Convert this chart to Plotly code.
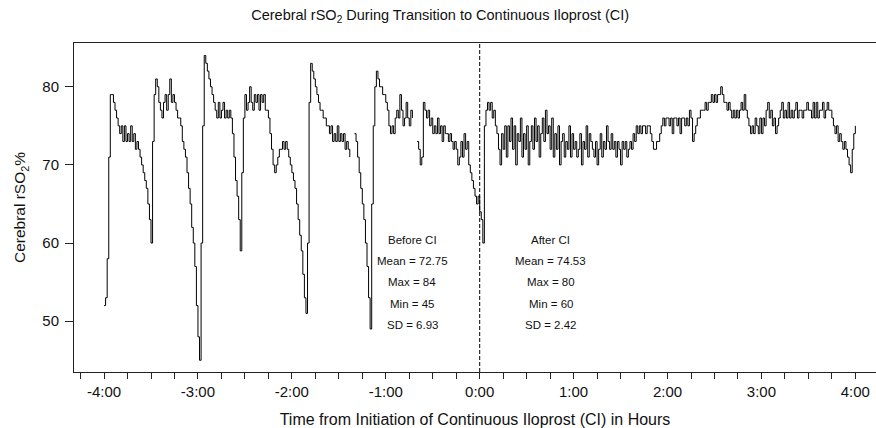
import plotly.graph_objects as go

# ---- data (minutes from initiation of continuous iloprost, rSO2 %) ----
seg1_start_min = -240
seg1_rso2 = [52, 53, 58, 71, 79, 79, 78, 77, 76, 75,
             74, 75, 73, 75, 73, 74, 73, 75, 73, 74,
             72, 73, 72, 71, 70, 69, 68, 67, 65, 63,
             60, 73, 79, 81, 80, 78, 77, 76, 78, 79,
             77, 79, 81, 78, 79, 78, 77, 76, 76, 75,
             73, 72, 71, 69, 67, 65, 62, 60, 57, 52,
             48, 45, 60, 75, 84, 83, 82, 81, 80, 79,
             78, 77, 76, 78, 76, 77, 78, 76, 77, 76,
             77, 76, 74, 71, 68, 66, 63, 59, 69, 76,
             79, 77, 78, 80, 78, 77, 79, 78, 79, 77,
             79, 78, 79, 77, 77, 76, 74, 72, 70, 69,
             70, 71, 72, 72, 73, 72, 73, 72, 71, 70,
             69, 68, 67, 65, 63, 61, 59, 56, 53, 51,
             60, 78, 83, 82, 81, 80, 79, 78, 77, 77,
             76, 76, 75, 75, 74, 75, 73, 74, 73, 75,
             73, 74, 73, 74, 72, 73, 72, 71]

seg2_start_min = -80
seg2_rso2 = [74, 73, 71, 69, 67, 65, 63, 60, 57, 53,
             49, 65, 75, 80, 82, 81, 80, 80, 79, 79,
             78, 77, 75, 74, 75, 74, 76, 77, 76, 79,
             77, 75, 76, 78, 76, 75, 77, 76]

seg3_start_min = -40
seg3_rso2 = [73, 72, 70, 71, 78, 77, 76, 77, 75, 76,
             74, 75, 74, 76, 74, 75, 73, 75, 74, 74,
             73, 74, 73, 72, 73, 72, 70, 71, 73, 71,
             74, 72, 73, 70, 69, 68, 67, 66, 65, 66,
             64, 63, 60, 75, 77, 78, 77, 78, 76, 77,
             75, 74, 72, 70, 74, 72, 75, 71, 75, 73,
             76, 72, 75, 70, 74, 73, 76, 71, 74, 72,
             75, 70, 73, 75, 72, 76, 73, 75, 71, 74,
             76, 73, 77, 74, 75, 72, 76, 71, 74, 72,
             75, 70, 73, 74, 71, 73, 72, 75, 71, 74,
             72, 73, 71, 72, 74, 70, 73, 72, 75, 71,
             74, 73, 72, 71, 73, 70, 72, 74, 71, 73,
             72, 75, 73, 72, 74, 72, 73, 71, 73, 72,
             70, 73, 72, 73, 71, 72, 73, 72, 74, 73,
             75, 74, 75, 74, 75, 75, 74, 75, 75, 74,
             73, 72, 72, 73, 73, 74, 75, 76, 75, 76,
             76, 75, 76, 74, 76, 76, 75, 76, 74, 76,
             76, 75, 76, 75, 77, 76, 73, 74, 75, 76,
             76, 77, 77, 77, 78, 77, 78, 78, 79, 78,
             79, 78, 79, 79, 80, 79, 78, 78, 77, 78,
             77, 76, 77, 76, 77, 76, 77, 78, 77, 79,
             77, 76, 75, 74, 75, 74, 76, 75, 74, 76,
             74, 76, 75, 77, 78, 76, 77, 75, 76, 74,
             75, 76, 77, 78, 76, 77, 76, 78, 76, 77,
             76, 77, 78, 76, 77, 77, 76, 77, 77, 78,
             77, 77, 76, 78, 76, 78, 76, 77, 77, 78,
             76, 77, 78, 77, 77, 76, 75, 74, 75, 73,
             74, 73, 72, 73, 72, 71, 70, 69, 72, 74,
             75]

x_tick_vals = [-4, -3, -2, -1, 0, 1, 2, 3, 4]
x_tick_text = ["-4:00", "-3:00", "-2:00", "-1:00", "0:00", "1:00", "2:00", "3:00", "4:00"]
y_tick_vals = [50, 60, 70, 80]

before_lines = ["Before CI", "Mean = 72.75", "Max = 84", "Min = 45", "SD = 6.93"]
after_lines = ["After CI", "Mean = 74.53", "Max = 80", "Min = 60", "SD = 2.42"]

# ---- build trace ----
xs, ys = [], []
for start, vals in [(seg1_start_min, seg1_rso2), (seg2_start_min, seg2_rso2), (seg3_start_min, seg3_rso2)]:
    if xs:
        xs.append(None)
        ys.append(None)
    for i, v in enumerate(vals):
        xs.append((start + i) / 60.0)
        ys.append(v)

FONT = "Liberation Sans, Arial, sans-serif"
AX = "#222222"
TXT = "#111111"

fig = go.Figure()
fig.add_trace(go.Scatter(x=xs, y=ys, mode="lines", line=dict(color="black", width=1, shape="hv"),
                         connectgaps=False, hoverinfo="skip", showlegend=False))

fig.add_shape(type="line", x0=0, x1=0, y0=0, y1=1, xref="x", yref="paper",
              line=dict(color="black", width=1, dash="4px,2px"))

line_y = [60.4, 57.7, 55.0, 52.2, 49.5]
for lines, xc in [(before_lines, -0.716), (after_lines, 0.755)]:
    for txt, yy in zip(lines, line_y):
        fig.add_annotation(x=xc, y=yy, xref="x", yref="y", text=txt, showarrow=False,
                           font=dict(family=FONT, size=11.5, color=TXT))

fig.update_layout(
    width=876, height=428,
    margin=dict(l=74, r=0, t=43, b=56),
    paper_bgcolor="white", plot_bgcolor="white",
    font=dict(family=FONT, color=TXT),
    title=dict(text="Cerebral rSO<sub>2</sub> During Transition to Continuous Iloprost (CI)",
               x=0.5025, xanchor="center", y=0.965, yanchor="middle",
               font=dict(family=FONT, size=14.5, color=TXT)),
    xaxis=dict(range=[-4.32, 4.22], tickvals=x_tick_vals, ticktext=x_tick_text,
               ticks="outside", ticklen=6, tickcolor=AX, tickwidth=1,
               minor=dict(dtick=0.25, tick0=0, ticks="outside", ticklen=6, tickcolor=AX, tickwidth=1),
               showline=True, linecolor=AX, linewidth=1, mirror=True,
               showgrid=False, zeroline=False,
               tickfont=dict(family=FONT, size=15, color=TXT),
               title=dict(text="Time from Initiation of Continuous Iloprost (CI) in Hours",
                          font=dict(family=FONT, size=16, color=TXT), standoff=14)),
    yaxis=dict(range=[43.5, 85.6], tickvals=y_tick_vals,
               ticks="outside", ticklen=8, tickcolor=AX, tickwidth=1,
               showline=True, linecolor=AX, linewidth=1, mirror=False,
               showgrid=False, zeroline=False, ticklabelstandoff=3,
               tickfont=dict(family=FONT, size=15, color=TXT),
               title=dict(text="Cerebral rSO<sub>2</sub>%",
                          font=dict(family=FONT, size=15.5, color=TXT), standoff=12)),
)

fig.write_html("out.html", config={"displayModeBar": False},
               post_script="document.body.style.margin='0px';")
